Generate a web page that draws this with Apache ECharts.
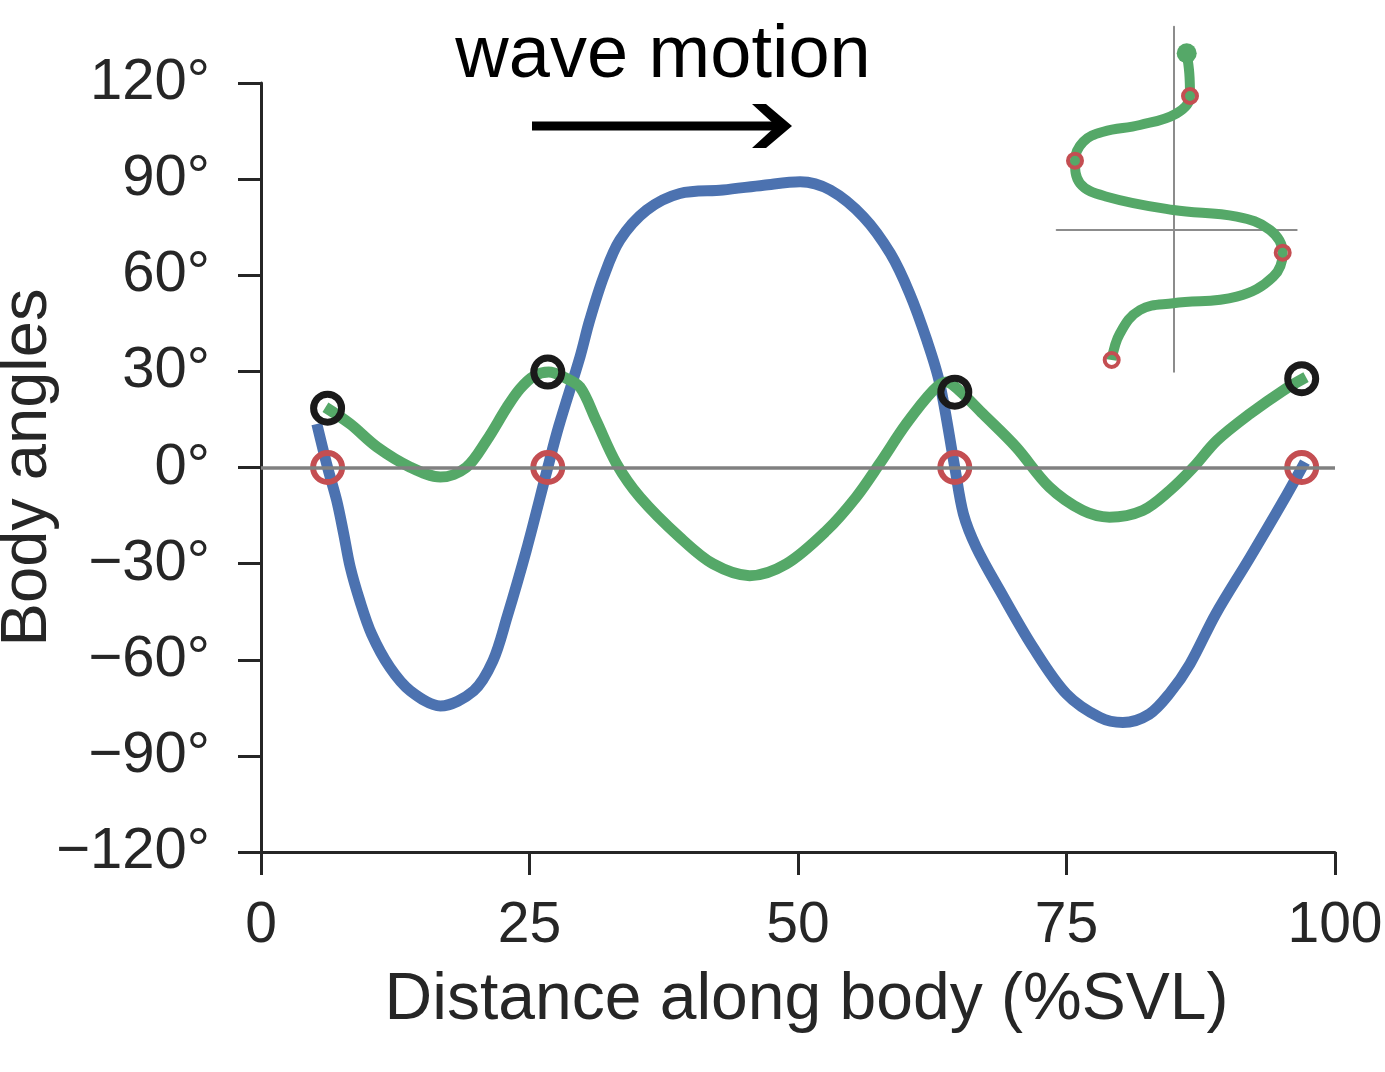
<!DOCTYPE html>
<html>
<head>
<meta charset="utf-8">
<script src="https://cdn.jsdelivr.net/npm/echarts@6/dist/echarts.min.js"></script>
<style>
html,body{margin:0;padding:0;background:#ffffff;}
#chart{width:1385px;height:1072px;}
</style>
</head>
<body>
<div id="chart"></div>
<script>
// ---- Data ----
const xTicks = [0, 25, 50, 75, 100];
const yTicks = [-120, -90, -60, -30, 0, 30, 60, 90, 120];

const blueX = [5.2, 6.2, 7.05, 7.7, 8.3, 9.2, 10.3, 12.0, 13.9, 16.7, 19.8, 21.6, 22.9, 24.7, 26.7, 27.7, 29.7, 30.6, 31.9, 33.4, 35.9, 39.0, 43.0, 46.8, 50.2, 53.0, 56.1, 58.6, 60.4, 62.0, 63.2, 64.6, 65.4, 66.6, 68.8, 71.9, 75.0, 78.1, 80.25, 82.7, 84.6, 86.5, 88.9, 92.1, 95.2, 97.2];
const blueY = [13.6, 0, -10.3, -20.7, -31, -41.6, -52, -62.4, -69.7, -74.4, -69.7, -60.3, -46.8, -25.9, 0, 12.6, 34.5, 45.9, 59.5, 70.9, 80.3, 85.5, 86.6, 88.1, 89.2, 86.6, 78.2, 66.8, 54.3, 39.7, 26.2, 0, -14.5, -24.9, -38.4, -56.2, -70.7, -78, -79.6, -77, -70.5, -61.3, -45.7, -28, -10.3, 1.7];

const greenX = [6.0, 8.3, 10.8, 13.9, 16.7, 19.1, 21.0, 22.9, 24.1, 25.4, 26.8, 28.2, 29.7, 31.2, 33.1, 35.3, 39.0, 42.1, 45.5, 48.9, 52.65, 55.4, 57.6, 60.1, 62.6, 63.8, 65.0, 67.2, 70.3, 73.4, 76.5, 79.0, 82.1, 84.6, 86.8, 89.0, 92.1, 95.2, 97.3];
const greenY = [18.8, 13.6, 6.4, 0.1, -3.0, 0, 8.4, 18.8, 24.5, 28.5, 29.8, 28.2, 25.1, 14.7, 1.2, -9.3, -21.8, -30.1, -33.75, -30.1, -19.7, -9.3, 1.2, 13.7, 24.1, 26.7, 24.1, 16.8, 6.4, -6.1, -13.4, -15.5, -13.4, -7.2, 0, 8.4, 16.8, 24.1, 28.2];

const nodeX = [6.2, 26.7, 64.6, 96.9];
const redY = [0, 0, 0, 0];
const blackY = [18.5, 29.8, 23.5, 27.7];

// inset (body shape), arbitrary units
const insetX = [1.27, 1.53, 1.6, 0.27, -3.4, -7.07, -9.07, -9.9, -9.4, -6.73, -0.07, 6.27, 9.6, 10.87, 9.93, 6.27, -0.07, -3.4, -5.4, -6.23];
const insetY = [17.67, 15.67, 13.4, 11.67, 10.5, 9.83, 8.83, 6.93, 4.67, 3.33, 2.0, 1.33, 0, -2.27, -4.67, -6.67, -7.33, -8.0, -10.33, -13.0];
const insetNodeX = [1.6, -9.9, 10.87, -6.23];
const insetNodeY = [13.4, 6.93, -2.27, -13.0];
const insetHead = [[1.27, 17.67]];

const titleText = 'wave motion';
const xName = 'Distance along body (%SVL)';
const yName = 'Body angles';

// ---- helpers ----
const zip = (a, b) => a.map((v, i) => [v, b[i]]);
const FONT = "'Liberation Sans', Arial, Helvetica, sans-serif";
const INK = '#262626';
const BLUE = '#4C72B0', GREEN = '#55A868', RED = '#C44E52';

const chart = echarts.init(document.getElementById('chart'), null, {renderer: 'canvas'});

const option = {
  animation: false,
  backgroundColor: '#ffffff',
  textStyle: {fontFamily: FONT},
  grid: [
    {left: 261, top: 83, width: 1074, height: 769, containLabel: false, outerBoundsMode: 'none'},
    {left: 1056.7, top: 26.7, width: 240, height: 345, containLabel: false, outerBoundsMode: 'none'}
  ],
  xAxis: [
    {
      type: 'value', gridIndex: 0, min: xTicks[0], max: xTicks[xTicks.length - 1], interval: 25,
      name: xName, nameLocation: 'middle', nameGap: 116, nameMoveOverlap: false,
      nameTextStyle: {fontSize: 66, color: INK, fontFamily: FONT, padding: [0, 0, 0, 17]},
      axisLine: {show: true, onZero: false, lineStyle: {color: INK, width: 3}},
      axisTick: {show: true, inside: false, length: 23, lineStyle: {color: INK, width: 3}},
      axisLabel: {show: true, margin: 46, fontSize: 57, color: INK, fontFamily: FONT},
      splitLine: {show: false}
    },
    {
      type: 'value', gridIndex: 1, min: -11.73, max: 12.27,
      axisLine: {show: true, onZero: true, lineStyle: {color: '#8c8c8c', width: 2}},
      axisTick: {show: false}, axisLabel: {show: false}, splitLine: {show: false}
    }
  ],
  yAxis: [
    {
      type: 'value', gridIndex: 0, min: yTicks[0], max: yTicks[yTicks.length - 1], interval: 30,
      name: yName, nameLocation: 'middle', nameGap: 200, nameRotate: 90, nameMoveOverlap: false,
      nameTextStyle: {fontSize: 65, color: INK, fontFamily: FONT},
      axisLine: {show: true, onZero: false, lineStyle: {color: INK, width: 3}},
      axisTick: {show: true, inside: false, length: 23, lineStyle: {color: INK, width: 3}},
      axisLabel: {
        show: true, margin: 51, fontSize: 58, color: INK, fontFamily: FONT,
        formatter: v => (v < 0 ? '\u2212' + Math.abs(v) : String(v)) + '\u00b0'
      },
      splitLine: {show: false}
    },
    {
      type: 'value', gridIndex: 1, min: -14.17, max: 20.33,
      axisLine: {show: true, onZero: true, lineStyle: {color: '#8c8c8c', width: 2}},
      axisTick: {show: false}, axisLabel: {show: false}, splitLine: {show: false}
    }
  ],
  series: [
    {
      name: 'zero', type: 'line', xAxisIndex: 0, yAxisIndex: 0, data: [], z: 1,
      markLine: {
        silent: true, symbol: ['none', 'none'], label: {show: false},
        lineStyle: {color: '#808080', width: 3.5, type: 'solid'},
        data: [{yAxis: 0}]
      }
    },
    {
      name: 'blue', type: 'line', xAxisIndex: 0, yAxisIndex: 0, z: 2,
      data: zip(blueX, blueY), smooth: 0.33, showSymbol: false, symbol: 'none',
      lineStyle: {color: BLUE, width: 11, cap: 'butt', join: 'round'}
    },
    {
      name: 'green', type: 'line', xAxisIndex: 0, yAxisIndex: 0, z: 3,
      data: zip(greenX, greenY), smooth: 0.33, showSymbol: false, symbol: 'none',
      lineStyle: {color: GREEN, width: 11, cap: 'butt', join: 'round'}
    },
    {
      name: 'red', type: 'scatter', xAxisIndex: 0, yAxisIndex: 0, z: 4,
      data: zip(nodeX, redY), symbol: 'circle', symbolSize: 29,
      itemStyle: {color: 'rgba(0,0,0,0)', borderColor: RED, borderWidth: 6, opacity: 1}
    },
    {
      name: 'black', type: 'scatter', xAxisIndex: 0, yAxisIndex: 0, z: 4,
      data: zip(nodeX, blackY), symbol: 'circle', symbolSize: 28,
      itemStyle: {color: 'rgba(0,0,0,0)', borderColor: '#1a1a1a', borderWidth: 7, opacity: 1}
    },
    {
      name: 'inset', type: 'line', xAxisIndex: 1, yAxisIndex: 1, z: 3,
      data: zip(insetX, insetY), smooth: 0.4, showSymbol: false, symbol: 'none',
      lineStyle: {color: GREEN, width: 10, cap: 'butt', join: 'round'}
    },
    {
      name: 'insetHead', type: 'scatter', xAxisIndex: 1, yAxisIndex: 1, z: 4,
      data: insetHead, symbol: 'circle', symbolSize: 20,
      itemStyle: {color: GREEN, opacity: 1}
    },
    {
      name: 'insetNodes', type: 'scatter', xAxisIndex: 1, yAxisIndex: 1, z: 5,
      data: zip(insetNodeX, insetNodeY), symbol: 'circle', symbolSize: 14,
      itemStyle: {color: 'rgba(0,0,0,0)', borderColor: RED, borderWidth: 4, opacity: 1}
    }
  ],
  graphic: [
    {
      type: 'text', x: 663, y: 57, z: 10,
      style: {text: titleText, fill: '#000000', fontSize: 74, fontFamily: FONT, align: 'center', verticalAlign: 'middle'}
    },
    {
      type: 'line', z: 10,
      shape: {x1: 532, y1: 126, x2: 778, y2: 126},
      style: {stroke: '#000000', lineWidth: 9}
    },
    {
      type: 'polygon', z: 10,
      shape: {points: [[752, 104], [766, 104], [792, 126], [766, 148], [752, 148], [776, 126]]},
      style: {fill: '#000000'}
    }
  ]
};

chart.setOption(option);
</script>
</body>
</html>
